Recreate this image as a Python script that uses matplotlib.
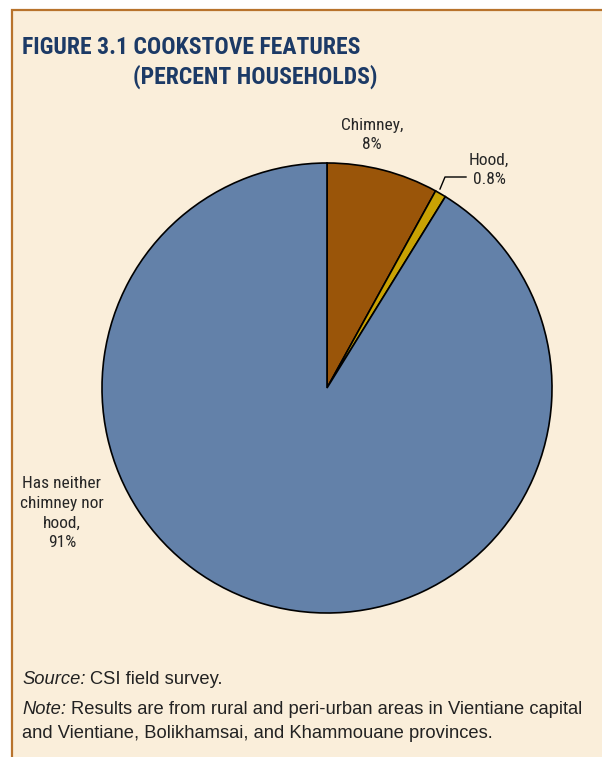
import numpy as np
import matplotlib.pyplot as plt
from matplotlib.patches import Rectangle

# Cookstove features, percent of households
labels = ['Chimney,\n8%', 'Hood,\n0.8%', 'Has neither\nchimney nor\nhood,\n91%']
shares = [8, 0.8, 91]
colors = ['#9A5509', '#C9A203', '#6381A9']

W, H = 602, 757
fig = plt.figure(figsize=(W/100, H/100), dpi=100)
fig.patch.set_facecolor('white')

# beige panel with a brown rule on the left and top
panel = Rectangle((11.5/W, -0.01), 1.0, (H-10)/H + 0.01, transform=fig.transFigure,
                  facecolor='#FAEEDA', edgecolor='#B8732C', linewidth=1.6, zorder=-5)
fig.patches.append(panel)

cond = ['Roboto Condensed', 'Liberation Sans Narrow', 'Roboto', 'DejaVu Sans']
fig.text(22/W, 1 - 47/H, 'FIGURE 3.1 COOKSTOVE FEATURES', family=cond, weight='bold',
         fontsize=17, color='#1C3A66', va='center', ha='left')
fig.text(133/W, 1 - 77/H, '(PERCENT HOUSEHOLDS)', family=cond, weight='bold',
         fontsize=17, color='#1C3A66', va='center', ha='left')

# pie: centre (327, 388), radius 225 px
cx, cy, r = 327, 388, 225
ax = fig.add_axes([(cx-r)/W, (H-cy-r)/H, 2*r/W, 2*r/H])
ax.pie(shares, colors=colors, startangle=90, counterclock=False,
       wedgeprops=dict(edgecolor='black', linewidth=1.2))
ax.set_xlim(-1, 1)
ax.set_ylim(-1, 1)
ax.set_aspect('equal')
ax.axis('off')

def to_data(px, py):
    return (px - cx) / r, (cy - py) / r

lab_kw = dict(family=cond, fontsize=12.5, color='#262626', ha='center', va='center',
              linespacing=1.4)
ax.text(*to_data(372, 135), labels[0], **lab_kw)
ax.text(*to_data(489, 170), labels[1], **lab_kw)
ax.text(*to_data(62, 513), labels[2], clip_on=False, **lab_kw)

# leader line for the thin hood slice
pts = np.array([to_data(440, 189), to_data(445, 177), to_data(466, 177)])
ax.plot(pts[:, 0], pts[:, 1], color='black', linewidth=1.0, clip_on=False)

# footnotes: italic lead word, then the rest placed right after it
foot = ['Liberation Sans', 'DejaVu Sans']
fs = 13.2
tc = '#222222'

def footnote(y, lead, rest):
    t = fig.text(22/W, 1 - y/H, lead, family=foot, style='italic',
                 fontsize=fs, color=tc, va='baseline')
    ax.annotate(rest, xy=(1, 0), xycoords=t, xytext=(3.5, 0), textcoords='offset points',
                family=foot, fontsize=fs, color=tc, va='bottom', ha='left',
                annotation_clip=False)

footnote(684, 'Source:', 'CSI field survey.')
footnote(714, 'Note:', 'Results are from rural and peri-urban areas in Vientiane capital')
fig.text(22/W, 1 - 738/H, 'and Vientiane, Bolikhamsai, and Khammouane provinces.',
         family=foot, fontsize=fs, color=tc, va='baseline')

plt.savefig('out.png', dpi=100)
